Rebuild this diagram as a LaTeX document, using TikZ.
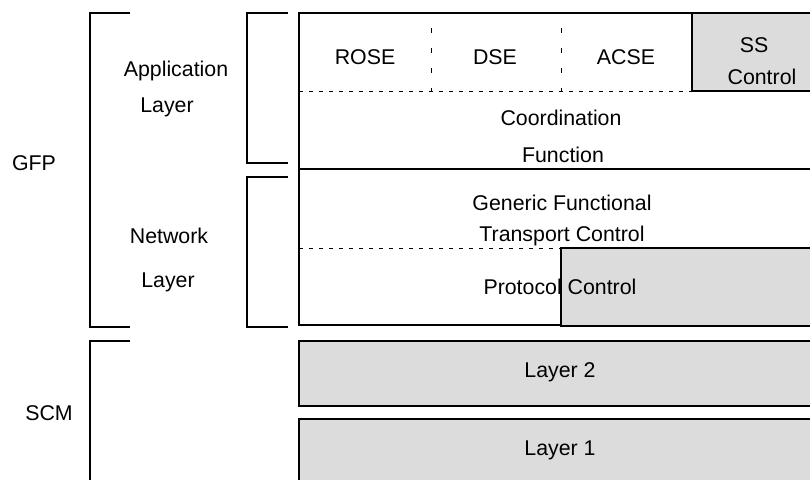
\documentclass[tikz,border=0pt]{standalone}
\usepackage{fontspec}
\setmainfont{Liberation Sans}
\usepackage{tikz}

\definecolor{boxgray}{RGB}{220,220,220}

\begin{document}
\begin{tikzpicture}[x=0.75pt, y=-0.75pt, line width=1.2pt,
    every node/.style={font=\fontsize{16}{19}\selectfont, inner sep=0pt},
    shaded/.style={fill=boxgray, draw=black},
    hdash/.style={line width=0.7pt, dash pattern=on 3pt off 4.5pt},
    vdash/.style={line width=0.7pt, dash pattern=on 3.75pt off 11.25pt, dash phase=3.75pt}]
    \useasboundingbox (0,0) rectangle (810,479);

    % draw outer frame of the GFP stack
    \draw[color=black] (820,13) -- (299,13) -- (299,325) -- (820,325);
    \draw[color=black] (299,169) -- (820,169);

    % draw shaded boxes
    \draw[shaded] (692,13) rectangle (820,91);
    \draw[shaded] (561,248) rectangle (820,326);
    \draw[shaded] (299,341) rectangle (820,406);
    \draw[shaded] (299,419) rectangle (820,490);

    % draw dashed separators
    \draw[hdash] (299,91) -- (692,91);
    \draw[hdash] (299,248) -- (561,248);
    \foreach \x in {431, 561}
        \draw[vdash] (\x,13) -- (\x,91);

    % draw brackets
    \draw[color=black] (130,13) -- (90,13) -- (90,327) -- (130,327);
    \draw[color=black] (130,341) -- (90,341) -- (90,485);
    \draw[color=black] (288,13) -- (247,13) -- (247,163) -- (288,163);
    \draw[color=black] (288,177) -- (247,177) -- (247,327) -- (288,327);

    % draw labels
    \node (gfp) at (34,163) {GFP};
    \node (scm) at (49,413) {SCM};
    \node (app) at (176,71) {Application};
    \node (applayer) at (167,107) {Layer};
    \node (net) at (169,236) {Network};
    \node (netlayer) at (168,282) {Layer};

    \node (rose) at (365,57) {ROSE};
    \node (dse) at (495,57) {DSE};
    \node (acse) at (626,57) {ACSE};
    \node (ss) at (754,45) {SS};
    \node (ssctrl) at (762,77) {Control};
    \node (coord) at (561,118) {Coordination};
    \node (func) at (563,155) {Function};
    \node (gfun) at (562,203) {Generic Functional};
    \node (tctrl) at (562,236) {Transport Control};
    \node (pctrl) at (560,287) {Protocol Control};
    \node (layer2) at (560,372) {Layer 2};
    \node (layer1) at (560,450) {Layer 1};

\end{tikzpicture}
\end{document}
